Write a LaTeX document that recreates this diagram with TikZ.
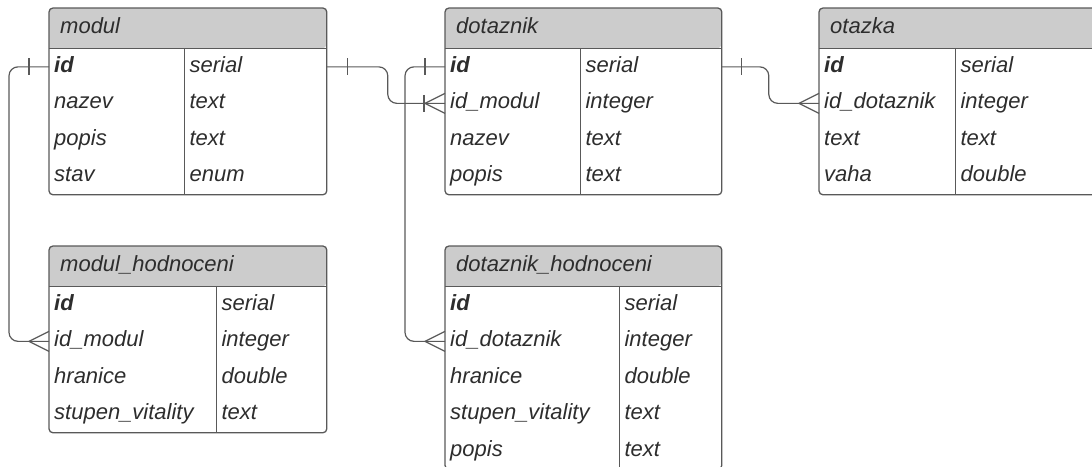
\documentclass[tikz,border=0pt]{standalone}
\usepackage{fontspec}
\setmainfont{Liberation Sans}
\usetikzlibrary{calc, positioning, backgrounds}
\definecolor{linegray}{RGB}{89, 89, 89}
\definecolor{headgray}{RGB}{204, 204, 204}
\definecolor{textgray}{RGB}{45, 45, 45}

\begin{document}
\begin{tikzpicture}[x=1pt, y=-1pt, font=\fontsize{22}{26}\selectfont\itshape, text=textgray]

\tikzstyle{head} = [anchor=north west, minimum height=40pt, inner xsep=11pt, inner ysep=0pt, text height=15.5pt, text depth=5pt, align=left]
\tikzstyle{fld} = [anchor=north west, minimum height=36.5pt, inner xsep=5pt, inner ysep=0pt, text height=15.5pt, text depth=5pt, align=left]
\tikzstyle{frame} = [draw=linegray, line width=1.3pt, rounded corners=4pt]
\tikzstyle{conn} = [draw=linegray, line width=1.2pt, line join=round]

\clip (0,0) rectangle (1092,466);

% modul
\node[head, text width=255pt] (modul) at (49,8) {modul};
\foreach \f/\t [count=\i from 0] in {\textbf{id}/serial, nazev/text, popis/text, stav/enum} {
  \node[fld, text width=125pt] (modul-\i) at ($(modul.south west)+(0,36.5*\i)$) {\f};
  \node[fld, text width=132pt, right=0pt of modul-\i] (modul-\i t) {\t};
}

% dotaznik
\node[head, text width=254pt] (dotaznik) at (445,8) {dotaznik};
\foreach \f/\t [count=\i from 0] in {\textbf{id}/serial, id\_modul/integer, nazev/text, popis/text} {
  \node[fld, text width=125pt] (dotaznik-\i) at ($(dotaznik.south west)+(0,36.5*\i)$) {\f};
  \node[fld, text width=131pt, right=0pt of dotaznik-\i] (dotaznik-\i t) {\t};
}

% otazka
\node[head, text width=255pt] (otazka) at (819,8) {otazka};
\foreach \f/\t [count=\i from 0] in {\textbf{id}/serial, id\_dotaznik/integer, text/text, vaha/double} {
  \node[fld, text width=126pt] (otazka-\i) at ($(otazka.south west)+(0,36.5*\i)$) {\f};
  \node[fld, text width=131pt, right=0pt of otazka-\i] (otazka-\i t) {\t};
}

% modul_hodnoceni
\node[head, text width=255pt] (mhod) at (49,246) {modul\_hodnoceni};
\foreach \f/\t [count=\i from 0] in {\textbf{id}/serial, id\_modul/integer, hranice/double, stupen\_vitality/text} {
  \node[fld, text width=157pt] (mhod-\i) at ($(mhod.south west)+(0,36.5*\i)$) {\f};
  \node[fld, text width=100pt, right=0pt of mhod-\i] (mhod-\i t) {\t};
}

% dotaznik_hodnoceni
\node[head, text width=254pt] (dhod) at (445,246) {dotaznik\_hodnoceni};
\foreach \f/\t [count=\i from 0] in {\textbf{id}/serial, id\_dotaznik/integer, hranice/double, stupen\_vitality/text, popis/text} {
  \node[fld, text width=164pt] (dhod-\i) at ($(dhod.south west)+(0,36.5*\i)$) {\f};
  \node[fld, text width=92pt, right=0pt of dhod-\i] (dhod-\i t) {\t};
}

% table frames
\begin{scope}[on background layer]
\foreach \tb in {modul, dotaznik, otazka, mhod, dhod}
  \fill[headgray] (\tb.south west) [rounded corners=4pt] -- (\tb.north west) -- (\tb.north east) -- (\tb.south east) [sharp corners] -- cycle;
\end{scope}
\foreach \tb/\n in {modul/3, dotaznik/3, otazka/3, mhod/3, dhod/4} {
  \draw[frame] (\tb.north west) rectangle (\tb-\n t.south east);
  \draw[linegray, line width=1.3pt] (\tb.south west) -- (\tb.south east) (\tb-0t.north west) -- (\tb-\n t.south west);
}

% relations
\draw[conn, rounded corners=9pt] (modul-0t.east) -- ++(61,0) |- (dotaznik-1.west);
\draw[conn, rounded corners=9pt] (modul-0.west) -- ++(-40,0) |- (mhod-1.west);
\draw[conn, rounded corners=9pt] (dotaznik-0.west) -- ++(-40,0) |- (dhod-1.west);
\draw[conn, rounded corners=9pt] (dotaznik-0t.east) -- ++(47,0) |- (otazka-1.west);

% one
\draw[conn] ([xshift=21pt]modul-0t.east) ++(0,-8.5) -- ++(0,17);
\draw[conn] ([xshift=-20pt]modul-0.west) ++(0,-8.5) -- ++(0,17);
\draw[conn] ([xshift=-20pt]dotaznik-0.west) ++(0,-8.5) -- ++(0,17);
\draw[conn] ([xshift=20pt]dotaznik-0t.east) ++(0,-8.5) -- ++(0,17);
\draw[conn] ([xshift=-21pt]dotaznik-1.west) ++(0,-8.5) -- ++(0,17);

% many
\foreach \c in {dotaznik-1, otazka-1, mhod-1, dhod-1}
  \draw[conn] (\c.west) ++(0,-10) -- ++(-20,10) -- ++(20,10);

\end{tikzpicture}
\end{document}
